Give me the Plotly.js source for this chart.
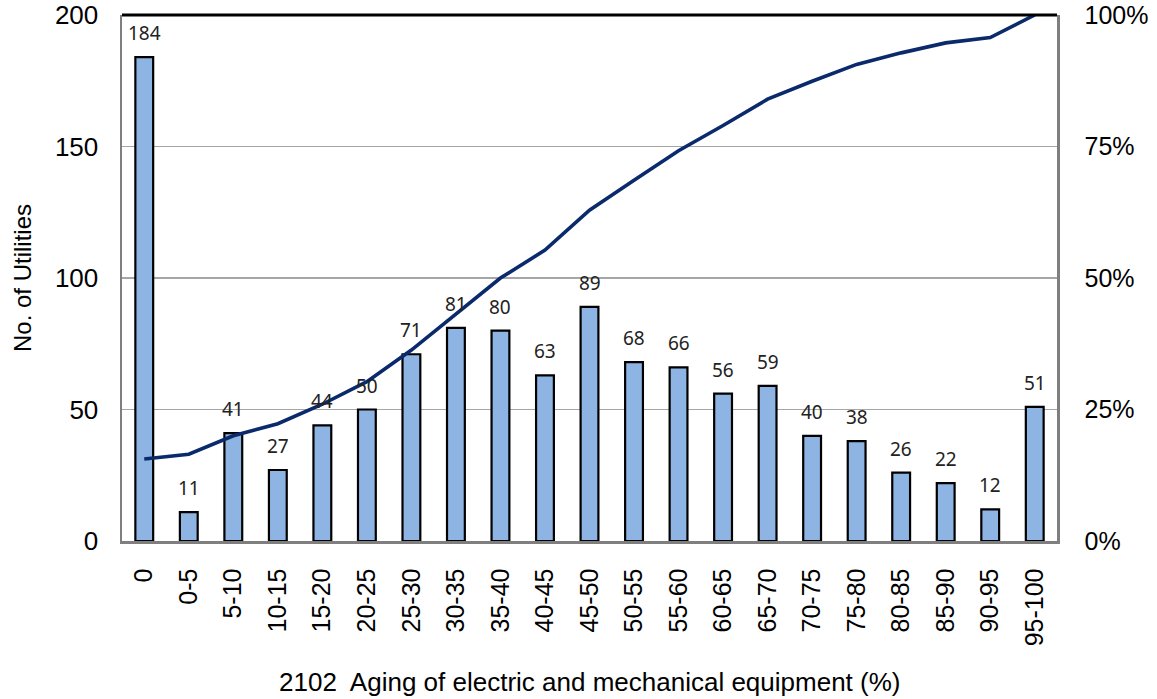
<!DOCTYPE html>
<html>
<head>
<meta charset="utf-8">
<script src="https://cdn.plot.ly/plotly-3.0.1.min.js"></script>
<style>html,body{margin:0;padding:0;background:#fff;}#chart{width:1157px;height:699px;}</style>
</head>
<body>
<div id="chart"></div>
<script>
const categories = ["0","0-5","5-10","10-15","15-20","20-25","25-30","30-35","35-40","40-45","45-50","50-55","55-60","60-65","65-70","70-75","75-80","80-85","85-90","90-95","95-100"];
const utilities = [184,11,41,27,44,50,71,81,80,63,89,68,66,56,59,40,38,26,22,12,51];
const cumulativeShare = [0.156,0.165,0.200,0.223,0.260,0.303,0.363,0.432,0.500,0.553,0.629,0.686,0.742,0.790,0.840,0.874,0.906,0.928,0.947,0.957,1.000];
const yTitle = 'No. of Utilities';
const xTitle = '2102  Aging of electric and mechanical equipment (%)';

const bars = {
  type: 'bar', x: categories, y: utilities, width: 0.4,
  marker: {color: '#8DB4E2', line: {color: '#000000', width: 2.2}},
  hoverinfo: 'x+y', showlegend: false
};
const line = {
  type: 'scatter', mode: 'lines', x: categories, y: cumulativeShare, yaxis: 'y2',
  line: {color: '#0B2A6B', width: 3.6}, showlegend: false
};
const annotations = categories.map((c, i) => ({
  x: c, y: utilities[i], xref: 'x', yref: 'y', text: String(utilities[i]),
  showarrow: false, yanchor: 'bottom', yshift: 9,
  font: {family: 'Noto Sans, sans-serif', size: 19, color: '#222'}
}));
annotations.push({
  text: xTitle, xref: 'paper', yref: 'paper',
  x: 0.5, y: 0, yshift: -141, yanchor: 'middle', showarrow: false,
  font: {family: 'Liberation Sans, Arial, sans-serif', size: 26, color: '#000'}
});
annotations.push({
  text: yTitle, xref: 'paper', yref: 'paper', textangle: -90,
  x: 0, y: 0.5, xshift: -100, xanchor: 'center', yanchor: 'middle', showarrow: false,
  font: {family: 'Liberation Sans, Arial, sans-serif', size: 24, color: '#000'}
});
const layout = {
  width: 1157, height: 699,
  margin: {l: 122, r: 100, t: 15, b: 158},
  paper_bgcolor: '#fff', plot_bgcolor: '#fff',
  font: {family: 'Liberation Sans, Arial, sans-serif', color: '#000'},
  xaxis: {
    type: 'category', tickangle: -90, showgrid: false, showline: true, linecolor: '#7f7f7f', linewidth: 2.5,
    ticks: '', tickfont: {size: 25}, ticklabelstandoff: 15, fixedrange: true
  },
  yaxis: {
    range: [0, 200], dtick: 50, showgrid: true, gridcolor: '#a6a6a6', gridwidth: 1.5,
    showline: true, linecolor: '#7f7f7f', linewidth: 2.5, ticks: '', tickfont: {size: 26},
    zeroline: false, ticklabelstandoff: 16
  },
  yaxis2: {
    overlaying: 'y', side: 'right', range: [0, 1], dtick: 0.25, tickformat: '.0%',
    showgrid: false, showline: true, linecolor: '#7f7f7f', linewidth: 2.5, ticks: '',
    tickfont: {size: 25}, zeroline: false, ticklabelstandoff: 20
  },
  shapes: [{type: 'line', xref: 'paper', yref: 'paper', x0: 0, x1: 1, y0: 1, y1: 1, line: {color: '#000', width: 3}}],
  annotations: annotations
};
Plotly.newPlot('chart', [bars, line], layout, {displayModeBar: false, staticPlot: true});
</script>
</body>
</html>
